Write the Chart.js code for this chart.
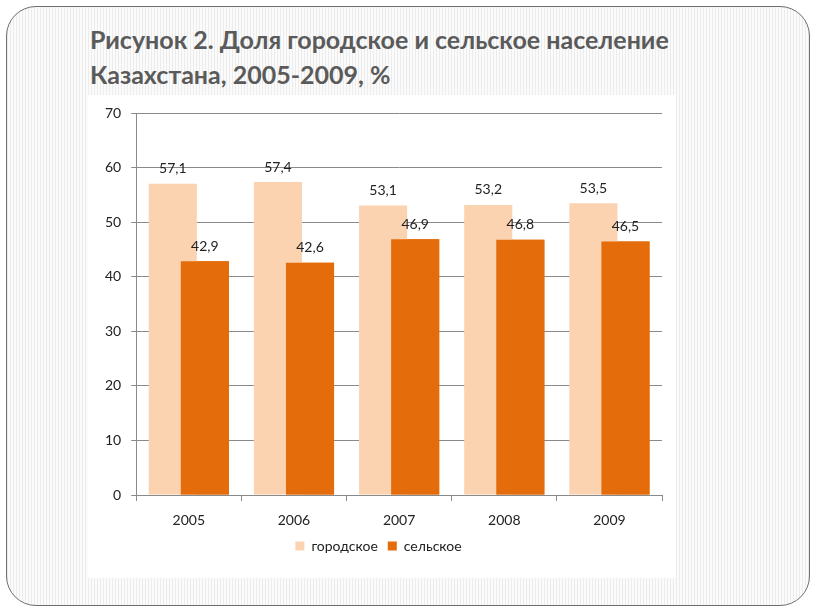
<!DOCTYPE html>
<html>
<head>
<meta charset="utf-8">
<script src="https://cdn.jsdelivr.net/npm/chart.js@4"></script>
<style>
  html, body { margin: 0; padding: 0; background: #fff; }
  body { width: 816px; height: 613px; position: relative; overflow: hidden; }
  .slide {
    position: absolute; left: 6px; top: 6px; width: 802px; height: 598px;
    border: 1.5px solid #6e6e6e; border-radius: 30px;
    background: repeating-linear-gradient(90deg, #ececec 0 1px, #fbfbfb 1px 3px);
  }
  .title {
    position: absolute; left: 90px; top: 22px;
    font-family: Lato, "Open Sans", sans-serif; font-weight: bold;
    font-size: 25px; line-height: 35px; color: #5a5a5a;
  }
  .panel {
    position: absolute; left: 88px; top: 95px; width: 588px; height: 483px;
    background: #fff;
  }
</style>
</head>
<body>
<div class="slide"></div>
<div class="title">Рисунок 2. Доля городское и сельское население<br>Казахстана, 2005-2009, %</div>
<div class="panel"><canvas id="chart" width="588" height="483"></canvas></div>
<script>
const years = ["2005", "2006", "2007", "2008", "2009"];
const urban = [57.1, 57.4, 53.1, 53.2, 53.5];
const rural = [42.9, 42.6, 46.9, 46.8, 46.5];
const yTicks = [0, 10, 20, 30, 40, 50, 60, 70];

const gridColor = "#8a8a8a";
const textColor = "#222";

// dark bars must sit on top of the light ones, then values above each bar
const barLabels = {
    id: "barLabels",
    afterDatasetsDraw(chart) {
        chart.getDatasetMeta(1).controller.draw();
        const ctx = chart.ctx;
        ctx.save();
        ctx.font = "14px Lato, sans-serif";
        ctx.fillStyle = textColor;
        ctx.textAlign = "center";
        ctx.textBaseline = "middle";
        chart.data.datasets.forEach((ds, i) => {
            chart.getDatasetMeta(i).data.forEach((bar, j) => {
                const txt = ds.data[j].toFixed(1).replace(".", ",");
                ctx.fillText(txt, bar.x, bar.y - 15);
            });
        });
        ctx.restore();
    }
};

new Chart(document.getElementById("chart"), {
    type: "bar",
    data: {
        labels: years,
        datasets: [
            {
                label: "городское",
                data: urban,
                backgroundColor: "#fbd3b1",
                categoryPercentage: 0.61,
                barPercentage: 1.5
            },
            {
                label: "сельское",
                data: rural,
                backgroundColor: "#e46c0a",
                categoryPercentage: 0.61,
                barPercentage: 1.5
            }
        ]
    },
    options: {
        responsive: false,
        animation: false,
        layout: { padding: { left: 7, right: 14, top: 12, bottom: 15 } },
        scales: {
            x: {
                afterFit: scale => { scale.height -= 10; },
                grid: { drawOnChartArea: false, drawTicks: true, tickLength: 6, color: gridColor },
                border: { color: gridColor },
                ticks: { color: textColor, font: { family: "Lato", size: 14, lineHeight: 1 }, padding: 12 }
            },
            y: {
                min: 0,
                max: 70,
                afterBuildTicks: axis => { axis.ticks = yTicks.map(v => ({ value: v })); },
                grid: { color: gridColor, tickLength: 5 },
                border: { color: gridColor },
                ticks: { color: textColor, font: { family: "Lato", size: 14 }, padding: 10 }
            }
        },
        plugins: {
            legend: {
                position: "bottom",
                labels: {
                    boxWidth: 9,
                    boxHeight: 9,
                    padding: 10,
                    color: textColor,
                    font: { family: "Lato", size: 14 }
                }
            },
            tooltip: { enabled: false }
        }
    },
    plugins: [barLabels]
});
</script>
</body>
</html>
